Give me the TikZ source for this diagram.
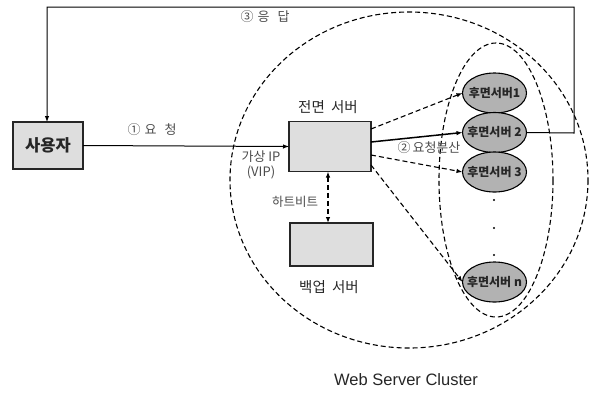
\documentclass[tikz,border=0pt]{standalone}
\usepackage{fontspec}
\setmainfont{Liberation Sans}
\newfontfamily\kr{Noto Sans CJK KR}
\usetikzlibrary{arrows.meta,shapes.geometric}
\begin{document}
\begin{tikzpicture}[x=1pt,y=-1pt,
  every node/.style={inner sep=0pt,outer sep=0pt},
  box/.style={draw=black!85,line width=1.2pt,fill=black!13,minimum width=82pt,minimum height=50pt},
  srv/.style={ellipse,draw=black,line width=1.1pt,fill=black!30,minimum width=64pt,minimum height=40pt},
  srvtext/.style={font=\kr\bfseries\fontsize{12}{13}\selectfont,text=black!85},
  lbl/.style={font=\kr\fontsize{13}{15}\selectfont,text=black!70},
  arr/.style={-{Latex[length=6pt,width=4.5pt]},line width=1pt},
  dsh/.style={dash pattern=on 5pt off 3pt,line width=1.1pt},
  ]
\useasboundingbox (0,0) rectangle (591,392);
% cluster ellipses
\draw[dsh] (409,180) ellipse [x radius=179,y radius=168];
\draw[dsh] (496,180) ellipse [x radius=57,y radius=137];
% nodes
\node[box,minimum width=70pt,minimum height=47pt,font=\kr\bfseries\fontsize{16.5}{18}\selectfont,text=black!85] (user) at (48,145.5) {사용자};
\node[box] (front) at (330,146.5) {};
\node[box,minimum width=83pt,minimum height=43pt] (backup) at (331.5,244.5) {};
\node[srv] (b1) at (494.5,93) {};
\node[srv] (b2) at (494.5,132.5) {};
\node[srv] (b3) at (494.5,172) {};
\node[srv] (bn) at (494.5,282) {};
\node[srvtext] (t1) at (b1) {후면서버1};
\node[srvtext] (t2) at (b2) {후면서버 2};
\node[srvtext] (t3) at (b3) {후면서버 3};
\node[srvtext] (tn) at (bn) {후면서버 n};
\node[font=\kr\fontsize{14.5}{16}\selectfont,text=black!85] (ftitle) at (328,107) {전면\hspace{3pt} 서버};
\node[font=\kr\fontsize{14.5}{16}\selectfont,text=black!85] (btitle) at (329,287) {백업\hspace{3pt} 서버};
\node[lbl] (l1) at (152,130) {①\hspace{4pt}요\hspace{8pt}청};
\node[lbl] (l2) at (429,148) {②\hspace{2pt}요청분산};
\node[lbl] (l3) at (265,17) {③\hspace{4pt}응\hspace{8pt}답};
\node[lbl,align=center,font=\kr\fontsize{13}{15}\selectfont] (vip) at (261,165) {가상 IP\\(VIP)};
\node[lbl,font=\kr\fontsize{12.5}{14}\selectfont] (hb) at (295,202) {하트비트};
\node[font=\fontsize{16.5}{18}\selectfont,text=black!85] (wsc) at (406,380) {Web Server Cluster};
% dots
\foreach \yy in {200,228,255} \fill (494,\yy) circle (1.1pt);
% request
\draw[arr] (user.east) -- (front.west);
% response
\coordinate (r1) at (574,133);
\coordinate (r2) at (574,7);
\coordinate (r3) at (47,7);
\draw[arr,line width=1pt] (b2.east) -- (r1) -- (r2) -- (r3) -- (user.north -| r3);
% distribution
\draw[arr,dsh] (front.east |- 0,129) -- (b1.west);
\draw[arr,line width=1.5pt] (front.east |- 0,142) -- (b2.west);
\draw[arr,dsh] (front.east |- 0,155) -- (b3.west);
\draw[arr,dsh] (front.east |- 0,165) -- (bn.west);
% heartbeat
\draw[{Latex[length=6pt,width=4.5pt]}-{Latex[length=6pt,width=4.5pt]},dsh] (front.south -| 328,0) -- (backup.north -| 328,0);
\end{tikzpicture}
\end{document}
